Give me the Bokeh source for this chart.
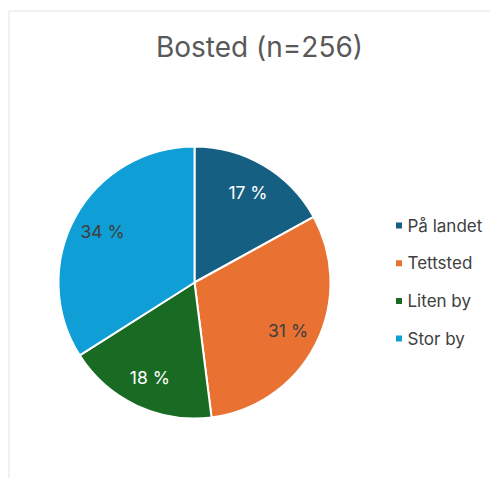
import math
from bokeh.plotting import figure
from bokeh.models import Range1d, ColumnDataSource, BoxAnnotation
from bokeh.core.properties import value
from bokeh.embed import file_html
from bokeh.resources import INLINE

title = "Bosted (n=256)"
categories = ["På landet", "Tettsted", "Liten by", "Stor by"]
percents = [17, 31, 18, 34]
colors = ["#156082", "#E97132", "#196B24", "#0F9ED5"]
label_colors = ["#FFFFFF", "#404040", "#FFFFFF", "#404040"]

W, H = 490, 478
FONT = "Inter"

p = figure(width=W, height=H, output_backend="svg", toolbar_location=None,
           x_range=Range1d(0, W), y_range=Range1d(0, H), min_border=0,
           outline_line_color=None, background_fill_color="white",
           border_fill_color="white")
p.axis.visible = False
p.grid.visible = False

# frame of the chart area (only left/top visible)
p.add_layout(BoxAnnotation(left=8.5, right=W + 50, top=H - 10.5, bottom=-50,
                           fill_alpha=0, line_color="#D0D0D0", line_width=2))

# pie geometry (screen layout)
cx, cy, R = 194, H - 282, 136
total = sum(percents)
starts, ends, lx, ly, labels = [], [], [], [], []
cum = 0.0
for v in percents:
    a0 = math.pi / 2 - 2 * math.pi * cum / total
    cum += v
    a1 = math.pi / 2 - 2 * math.pi * cum / total
    starts.append(a1)
    ends.append(a0)
    mid = (a0 + a1) / 2
    lx.append(cx + 105 * math.cos(mid))
    ly.append(cy + 105 * math.sin(mid))
    labels.append(f"{v} %")

src = ColumnDataSource(dict(start=starts, end=ends, color=colors,
                            lx=lx, ly=ly, label=labels, lc=label_colors))
p.wedge(x=cx, y=cy, radius=R, radius_units="screen", start_angle="start",
        end_angle="end", fill_color="color", line_color="white",
        line_width=2, source=src)
p.text(x="lx", y="ly", text="label", text_color="lc", text_align="center",
       text_baseline="middle", text_font=value(FONT), text_font_size="17.5px",
       source=src)

# title
p.text(x=[259], y=[H - 46], text=[title], text_color="#595959",
       text_align="center", text_baseline="middle", text_font=value(FONT),
       text_font_size="28px")

# legend
leg_y = [H - 225 - 37.7 * i for i in range(len(categories))]
p.scatter(x=[398.5] * len(categories), y=leg_y, marker="square", size=6,
          fill_color=colors, line_color=None)
p.text(x=[407] * len(categories), y=leg_y, text=categories,
       text_color="#404040", text_align="left", text_baseline="middle",
       text_font=value(FONT), text_font_size="17px")

open("out.html", "w").write(file_html(p, INLINE))
